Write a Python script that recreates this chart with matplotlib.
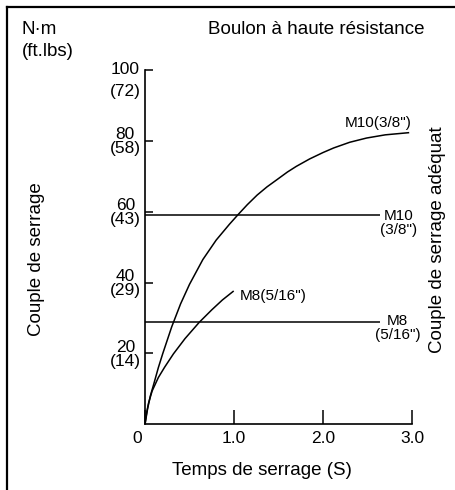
import matplotlib
matplotlib.use("Agg")
import matplotlib.pyplot as plt
import matplotlib.transforms as mtransforms
from matplotlib.lines import Line2D

plt.rcParams["font.family"] = ["Liberation Sans", "DejaVu Sans"]

# Data
time_m10 = [0, 0.03, 0.06, 0.1, 0.15, 0.2, 0.3, 0.4, 0.5, 0.65, 0.8, 0.95, 1.05, 1.15, 1.26,
            1.37, 1.48, 1.6, 1.7, 1.85, 2.0, 2.12, 2.3, 2.49, 2.7, 2.96]
torque_m10 = [0, 4.5, 8, 11.5, 16, 20, 27.5, 34, 39.5, 46.5, 52, 56.5, 59.3, 62, 64.7,
              67, 69, 71.2, 72.8, 74.9, 76.7, 78, 79.6, 80.8, 81.7, 82.3]

time_m8 = [0, 0.02, 0.04, 0.08, 0.15, 0.22, 0.32, 0.45, 0.61, 0.75, 0.87, 0.99]
torque_m8 = [0, 3.5, 6, 9.4, 13.2, 16.1, 19.9, 24.2, 28.8, 32.3, 35.1, 37.5]

adequate_m10 = 59
adequate_m8 = 29
adequate_end = 2.64

ytick_nm = [20, 40, 60, 80, 100]
ytick_ftlbs = [14, 29, 43, 58, 72]
xtick_vals = [0, 1, 2, 3]
xtick_labels = ["0", "1.0", "2.0", "3.0"]

W, H = 456, 490


def fx(x):
    return x / W


def fy(y):
    return 1 - y / H


fig = plt.figure(figsize=(W / 100, H / 100), dpi=100)
ax = fig.add_axes([fx(145), fy(424.3), 267 / W, 354.3 / H])

ax.plot(time_m10, torque_m10, color="black", lw=1.1)
ax.plot(time_m8, torque_m8, color="black", lw=1.1)
ax.hlines([adequate_m10, adequate_m8], 0, adequate_end, color="black", lw=1.1)

ax.set_xlim(0, 3)
ax.set_ylim(0, 100)
for s in ["top", "right"]:
    ax.spines[s].set_visible(False)
for s in ["left", "bottom"]:
    ax.spines[s].set_linewidth(1.2)
ax.spines["left"].set_bounds(0, 100)

ax.set_yticks(ytick_nm)
ax.set_yticklabels([f"{a}\n({b})" for a, b in zip(ytick_nm, ytick_ftlbs)],
                   fontsize=12.5, linespacing=0.92, multialignment="center")
ax.tick_params(axis="y", direction="in", length=5.5, width=1.1, pad=3)
ax.set_xticks(xtick_vals)
ax.set_xticklabels(xtick_labels, fontsize=12.5)
ax.tick_params(axis="x", direction="in", length=10, width=1.1, pad=5)

# the 100 label sits lower with looser spacing, the 0 label sits left of the axis
top_lab = ax.get_yticklabels()[-1]
top_lab.set_linespacing(1.6)
top_lab.set_transform(top_lab.get_transform()
                      + mtransforms.ScaledTranslation(0, -5.5 / 100, fig.dpi_scale_trans))
zero_lab = ax.get_xticklabels()[0]
zero_lab.set_transform(zero_lab.get_transform()
                       + mtransforms.ScaledTranslation(-8 / 100, 0, fig.dpi_scale_trans))

# curve and line labels
ax.text(2.25, 85.1, 'M10(3/8")', fontsize=11, ha="left", va="center")
ax.text(1.07, 36.2, 'M8(5/16")', fontsize=11, ha="left", va="center")
ax.text(2.85, 56.8, 'M10\n(3/8")', fontsize=11, ha="center", va="center", linespacing=1.0)
ax.text(2.84, 27.3, 'M8\n(5/16")', fontsize=11, ha="center", va="center", linespacing=1.0)

# figure texts
fig.text(fx(22), fy(30), "N·m", fontsize=13.5, ha="left", va="center")
fig.text(fx(22), fy(52), "(ft.lbs)", fontsize=13.5, ha="left", va="center")
fig.text(fx(208), fy(30), "Boulon à haute résistance", fontsize=13.5, ha="left", va="center")
fig.text(fx(37), fy(259), "Couple de serrage", fontsize=13.5, rotation=90, ha="center", va="center")
fig.text(fx(438), fy(240), "Couple de serrage adéquat", fontsize=13.5, rotation=90,
         ha="center", va="center")
fig.text(fx(262), fy(470), "Temps de serrage (S)", fontsize=13.5, ha="center", va="center")

# frame (top and left edges)
fig.add_artist(Line2D([fx(7), fx(7)], [0, fy(7)], color="black", lw=1.6))
fig.add_artist(Line2D([fx(7), 1], [fy(7), fy(7)], color="black", lw=1.6))

fig.savefig("out.png", dpi=100)
